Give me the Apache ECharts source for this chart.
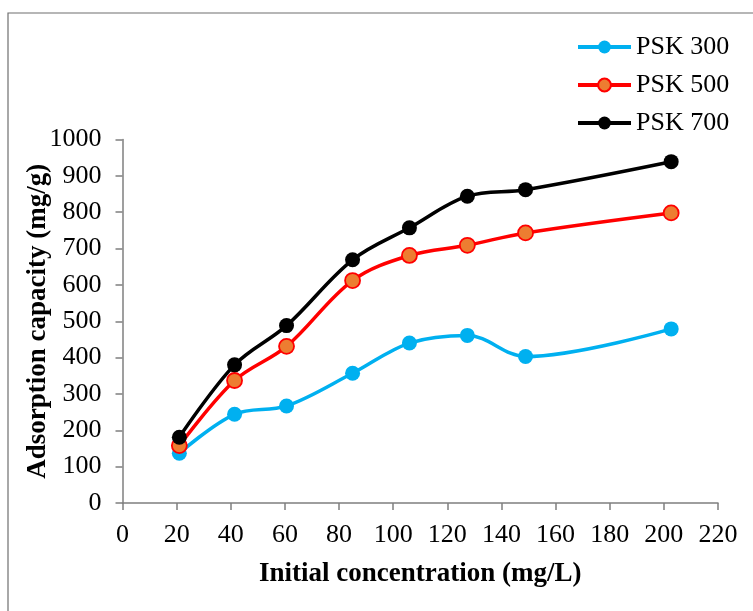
<!DOCTYPE html>
<html>
<head>
<meta charset="utf-8">
<script src="https://cdn.jsdelivr.net/npm/echarts@6/dist/echarts.min.js"></script>
<style>
  html, body { margin: 0; padding: 0; background: #fff; }
  #chart { width: 753px; height: 611px; }
</style>
</head>
<body>
<div id="chart"></div>
<script>
// Initial concentration (mg/L)
const concentration = [21.0, 41.4, 60.6, 85.0, 106.0, 127.4, 148.9, 202.7];

// Adsorption capacity (mg/g) for each activation temperature
const psk300 = [137, 244, 267, 357, 440, 461, 403, 479];
const psk500 = [158, 337, 431, 612, 681, 709, 743, 798];
const psk700 = [181, 380, 488, 669, 757, 844, 862, 939];

const seriesNames = ['PSK 300', 'PSK 500', 'PSK 700'];

const xTicks = { min: 0, max: 220, interval: 20 };
const yTicks = { min: 0, max: 1000, interval: 100 };

const font = '"Liberation Serif", "Times New Roman", serif';
const axisGray = '#7f7f7f';

function pairs(ys) {
  return concentration.map((x, i) => [x, ys[i]]);
}

function lineSeries(name, ys, lineColor, fill, border) {
  return {
    name: name,
    type: 'line',
    data: pairs(ys),
    smooth: 0.35,
    symbol: 'circle',
    symbolSize: 15,
    lineStyle: { color: lineColor, width: 3.5 },
    itemStyle: { color: fill, borderColor: border, borderWidth: border === fill ? 0 : 1.8 },
    emphasis: { disabled: true },
    z: 3
  };
}

const chart = echarts.init(document.getElementById('chart'), null, { renderer: 'canvas' });

chart.setOption({
  animation: false,
  backgroundColor: '#fff',
  textStyle: { fontFamily: font },
  grid: { left: 122.5, right: 35, top: 139.5, bottom: 108, containLabel: false },
  graphic: [{
    type: 'rect',
    shape: { x: 8, y: 13, width: 900, height: 800 },
    style: { fill: 'none', stroke: '#6f6f6f', lineWidth: 1.2 },
    silent: true,
    z: -1
  }],
  legend: {
    orient: 'vertical',
    left: 571,
    top: 29,
    itemWidth: 53,
    itemHeight: 16,
    itemGap: 12,
    data: seriesNames,
    lineStyle: { width: 4 },
    textStyle: { fontFamily: font, fontSize: 26, lineHeight: 26, color: '#000', padding: [0, 0, 0, 0] }
  },
  xAxis: {
    type: 'value',
    min: xTicks.min,
    max: xTicks.max,
    interval: xTicks.interval,
    name: 'Initial concentration (mg/L)',
    nameLocation: 'middle',
    nameGap: 58,
    nameMoveOverlap: false,
    nameTextStyle: { fontFamily: font, fontSize: 27, fontWeight: 'bold', color: '#000' },
    axisLine: { show: true, lineStyle: { color: axisGray, width: 1.5 } },
    axisTick: { show: true, inside: false, length: 7, lineStyle: { color: axisGray, width: 1.5 } },
    axisLabel: { fontFamily: font, fontSize: 26, color: '#000', margin: 19 },
    splitLine: { show: false }
  },
  yAxis: {
    type: 'value',
    min: yTicks.min,
    max: yTicks.max,
    interval: yTicks.interval,
    name: 'Adsorption capacity (mg/g)',
    nameLocation: 'middle',
    nameGap: 71,
    nameMoveOverlap: false,
    nameRotate: 90,
    nameTextStyle: { fontFamily: font, fontSize: 27, fontWeight: 'bold', color: '#000' },
    axisLine: { show: true, lineStyle: { color: axisGray, width: 1.5 } },
    axisTick: { show: true, inside: false, length: 7, lineStyle: { color: axisGray, width: 1.5 } },
    axisLabel: { fontFamily: font, fontSize: 26, color: '#000', margin: 21, formatter: v => String(v) },
    splitLine: { show: false }
  },
  series: [
    lineSeries(seriesNames[0], psk300, '#00b0f0', '#00b0f0', '#00b0f0'),
    lineSeries(seriesNames[1], psk500, '#ff0000', '#ed7d31', '#ff0000'),
    lineSeries(seriesNames[2], psk700, '#000000', '#000000', '#000000')
  ]
});
</script>
</body>
</html>
